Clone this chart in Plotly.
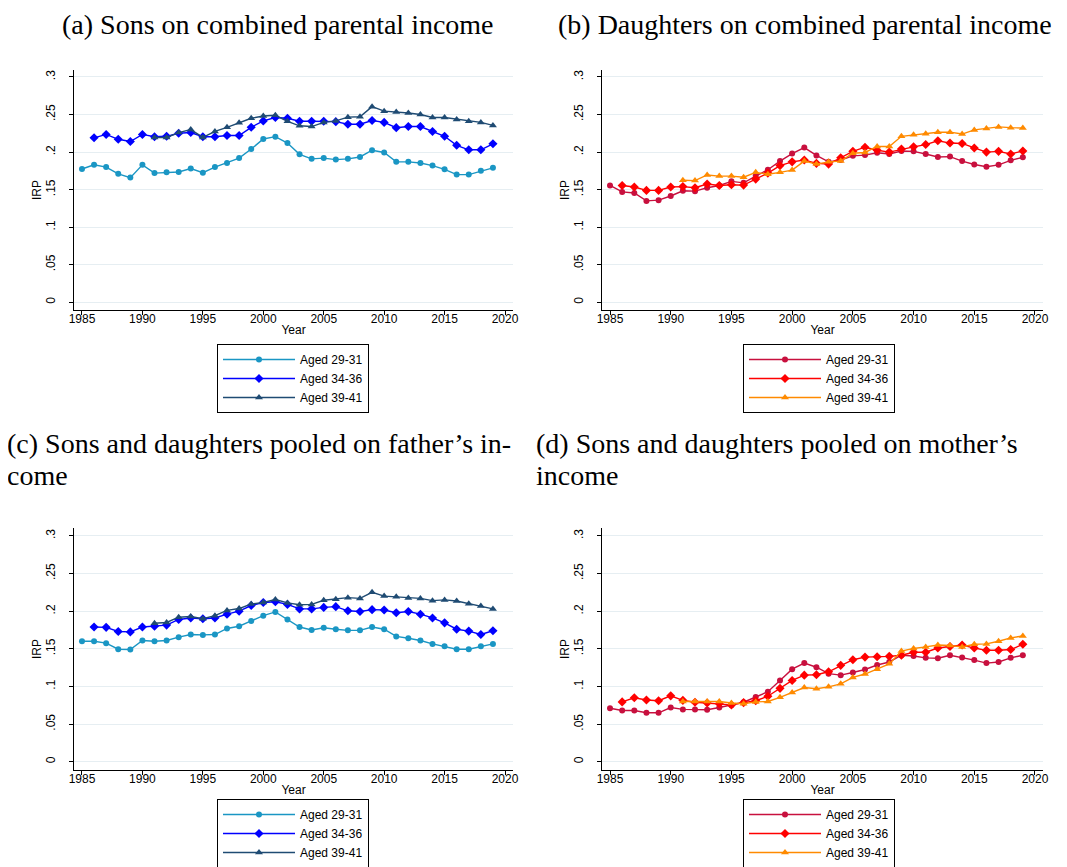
import plotly.graph_objects as go

#  Data (IRP by year)
years_29 = list(range(1985, 2020))
years_34 = list(range(1986, 2020))
years_39 = list(range(1991, 2020))

labels = ['Aged 29-31', 'Aged 34-36', 'Aged 39-41']

# (a) Sons on combined parental income
sons_29 = [0.1775, 0.183, 0.180, 0.171, 0.166, 0.183, 0.172, 0.173, 0.1735, 0.178,
           0.1725, 0.180, 0.1855, 0.192, 0.204, 0.2175, 0.2205, 0.212, 0.197, 0.191,
           0.192, 0.190, 0.191, 0.1935, 0.2025, 0.1995, 0.187, 0.187, 0.1855, 0.182,
           0.177, 0.170, 0.170, 0.175, 0.179]
sons_34 = [0.219, 0.2235, 0.217, 0.214, 0.2235, 0.2205, 0.221, 0.225, 0.226, 0.2205,
           0.2205, 0.222, 0.222, 0.233, 0.2415, 0.246, 0.245, 0.241, 0.241, 0.241,
           0.2405, 0.237, 0.237, 0.242, 0.2395, 0.2325, 0.234, 0.234, 0.2275, 0.221,
           0.209, 0.203, 0.203, 0.211]
sons_39 = [0.2195, 0.2195, 0.226, 0.230, 0.2195, 0.2275, 0.233, 0.239, 0.245, 0.248,
           0.249, 0.241, 0.235, 0.234, 0.2395, 0.2415, 0.2465, 0.247, 0.2605, 0.2545,
           0.2535, 0.252, 0.250, 0.246, 0.246, 0.2435, 0.241, 0.2395, 0.2355]

# (b) Daughters on combined parental income
daug_29 = [0.1555, 0.147, 0.1455, 0.135, 0.136, 0.1415, 0.1485, 0.148, 0.1525, 0.1555,
           0.161, 0.159, 0.168, 0.1765, 0.188, 0.198, 0.206, 0.1955, 0.187, 0.1895,
           0.195, 0.196, 0.199, 0.1975, 0.2015, 0.201, 0.1975, 0.1935, 0.194, 0.188,
           0.1835, 0.1805, 0.183, 0.189, 0.193]
daug_34 = [0.1555, 0.1535, 0.149, 0.149, 0.1535, 0.154, 0.1525, 0.1575, 0.1555, 0.1565,
           0.156, 0.164, 0.172, 0.182, 0.187, 0.1895, 0.185, 0.184, 0.1925, 0.201,
           0.2065, 0.2025, 0.200, 0.204, 0.207, 0.210, 0.215, 0.212, 0.2115, 0.2055,
           0.200, 0.201, 0.1975, 0.2015]
daug_39 = [0.1625, 0.162, 0.1695, 0.168, 0.168, 0.1665, 0.173, 0.1705, 0.173, 0.176,
           0.188, 0.184, 0.187, 0.188, 0.1985, 0.1995, 0.2075, 0.2075, 0.221, 0.223,
           0.2245, 0.2265, 0.2265, 0.224, 0.2295, 0.2315, 0.2335, 0.2325, 0.232]

# (c) Pooled on father's income
fath_29 = [0.160, 0.160, 0.1575, 0.1495, 0.149, 0.161, 0.160, 0.161, 0.1655, 0.169,
           0.1685, 0.169, 0.177, 0.180, 0.187, 0.194, 0.199, 0.189, 0.179, 0.175,
           0.178, 0.176, 0.1745, 0.1745, 0.179, 0.176, 0.1665, 0.164, 0.161, 0.1565,
           0.1535, 0.1495, 0.1495, 0.1535, 0.1565]
fath_34 = [0.179, 0.1785, 0.173, 0.1725, 0.179, 0.180, 0.1815, 0.189, 0.191, 0.190,
           0.191, 0.196, 0.200, 0.2075, 0.2115, 0.2125, 0.209, 0.203, 0.203, 0.205,
           0.206, 0.2005, 0.1995, 0.202, 0.2015, 0.198, 0.1995, 0.196, 0.191, 0.1845,
           0.176, 0.1735, 0.169, 0.174]
fath_39 = [0.184, 0.185, 0.192, 0.193, 0.190, 0.194, 0.201, 0.2035, 0.2095, 0.2115,
           0.2155, 0.211, 0.2085, 0.209, 0.2145, 0.216, 0.218, 0.217, 0.225, 0.220,
           0.219, 0.2175, 0.217, 0.214, 0.215, 0.2135, 0.210, 0.207, 0.203]

# (d) Pooled on mother's income
moth_29 = [0.071, 0.068, 0.068, 0.065, 0.065, 0.072, 0.0695, 0.0695, 0.069, 0.072,
           0.075, 0.079, 0.086, 0.093, 0.108, 0.123, 0.131, 0.1255, 0.117, 0.115,
           0.1185, 0.1225, 0.1285, 0.1325, 0.1415, 0.1405, 0.138, 0.1375, 0.1415, 0.1385,
           0.135, 0.131, 0.1325, 0.138, 0.1415]
moth_34 = [0.0795, 0.085, 0.082, 0.081, 0.0875, 0.0815, 0.079, 0.078, 0.077, 0.0755,
           0.0785, 0.081, 0.087, 0.0975, 0.108, 0.115, 0.1155, 0.1195, 0.128, 0.1355,
           0.139, 0.1395, 0.140, 0.1415, 0.1455, 0.1455, 0.151, 0.153, 0.155, 0.151,
           0.148, 0.148, 0.149, 0.156]
moth_39 = [0.080, 0.080, 0.080, 0.080, 0.078, 0.077, 0.0795, 0.080, 0.0855, 0.092,
           0.0985, 0.097, 0.0995, 0.1035, 0.112, 0.1165, 0.123, 0.130, 0.147, 0.1505,
           0.1525, 0.155, 0.1545, 0.1525, 0.156, 0.1565, 0.160, 0.1645, 0.167]

y_ticks = [0, 0.05, 0.1, 0.15, 0.2, 0.25, 0.3]
y_ticktext = ['0', '.05', '.1', '.15', '.2', '.25', '.3']
x_ticks = [1985, 1990, 1995, 2000, 2005, 2010, 2015, 2020]

sons_colors = ['#1a96c4', '#0000ff', '#1f4b73']
daug_colors = ['#c8103e', '#ff0000', '#ff8a00']
symbols = ['circle', 'diamond', 'triangle-up']

W, H = 1067, 867
sans = 'Liberation Sans, Arial'

#  panel pixel boxes: (left, right, top, bottom)
panels = [
    {'box': (66, 505, 62, 302), 'yr': [-0.0103, 0.3093],
     'series': [sons_29, sons_34, sons_39], 'colors': sons_colors, 'legend': (285, 336)},
    {'box': (594, 1035, 62, 302), 'yr': [-0.0103, 0.3093],
     'series': [daug_29, daug_34, daug_39], 'colors': daug_colors, 'legend': (811, 336)},
    {'box': (66, 505, 520, 762), 'yr': [-0.011, 0.3105],
     'series': [fath_29, fath_34, fath_39], 'colors': sons_colors, 'legend': (285, 791)},
    {'box': (594, 1035, 520, 762), 'yr': [-0.011, 0.3105],
     'series': [moth_29, moth_34, moth_39], 'colors': daug_colors, 'legend': (811, 791)},
]

fig = go.Figure()

layout = {}
for i, p in enumerate(panels):
    n = '' if i == 0 else str(i + 1)
    left, right, top, bottom = p['box']
    legend_name = 'legend' + n

    for years, vals, color, sym, lab in zip([years_29, years_34, years_39], p['series'],
                                           p['colors'], symbols, labels):
        fig.add_trace(go.Scatter(x=years, y=vals, mode='lines+markers', name=lab,
                                 line=dict(color=color, width=1.4),
                                 marker=dict(color=color, symbol=sym, size=7 if sym != 'circle' else 6),
                                 xaxis='x' + n, yaxis='y' + n, legend=legend_name))

    layout['xaxis' + n] = dict(domain=[left / W, right / W], anchor='y' + n, automargin=False,
                               range=[1984.34, 2020.66], tickvals=x_ticks,
                               showline=True, linecolor='black', linewidth=1,
                               ticks='outside', ticklen=4, tickcolor='black',
                               ticklabelstandoff=-6,
                               showgrid=False, zeroline=False,
                               tickfont=dict(family=sans, size=12, color='black'),
                               title=dict(text='Year', standoff=0,
                                          font=dict(family=sans, size=12, color='black')))
    layout['yaxis' + n] = dict(domain=[1 - bottom / H, 1 - top / H], anchor='x' + n, automargin=False,
                               range=p['yr'], tickvals=y_ticks, ticktext=y_ticktext,
                               tickangle=-90, showline=True, linecolor='black', linewidth=1,
                               ticks='outside', ticklen=4, tickcolor='black',
                               ticklabelstandoff=9,
                               showgrid=True, gridcolor='#e6eef2', gridwidth=1, zeroline=False,
                               tickfont=dict(family=sans, size=12, color='black'),
                               title=dict(text='IRP', standoff=0,
                                          font=dict(family=sans, size=12, color='black')))
    lx, ly = p['legend']
    layout[legend_name] = dict(x=lx / W, xanchor='center',
                               y=1 - ly / H, yanchor='top',
                               bordercolor='black', borderwidth=1, bgcolor='white',
                               font=dict(family=sans, size=12, color='black'),
                               tracegroupgap=0, itemwidth=72)

#  Panel titles (serif, like the LaTeX captions)
title_font = dict(family='Liberation Serif, Times New Roman, serif', size=28, color='black')
titles = [
    (270, 17, '(a) Sons on combined parental income', 'center'),
    (797, 17, '(b) Daughters on combined parental income', 'center'),
    (-3, 436, '(c) Sons and daughters pooled on father’s in-', 'left'),
    (-3, 468, 'come', 'left'),
    (526, 436, '(d) Sons and daughters pooled on mother’s', 'left'),
    (526, 468, 'income', 'left'),
]
annotations = []
for x, y, text, anchor in titles:
    annotations.append(dict(x=x / W, y=1 - y / H, xref='paper', yref='paper',
                            text=text, showarrow=False, xanchor=anchor, yanchor='middle',
                            height=32, valign='top', font=title_font))

fig.update_layout(**layout)
fig.update_layout(width=W, height=H, margin=dict(l=0, r=0, t=0, b=0),
                  plot_bgcolor='white', paper_bgcolor='white',
                  annotations=annotations)

fig.write_html('out.html')
